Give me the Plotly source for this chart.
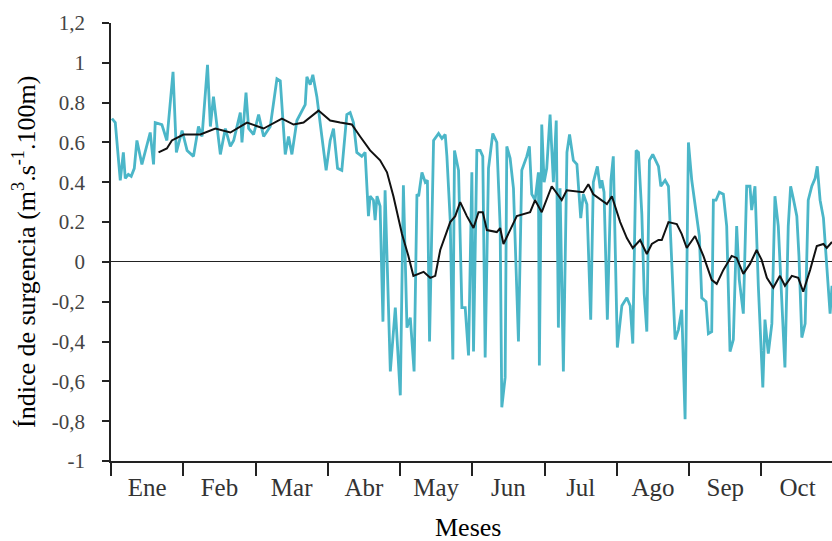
import plotly.graph_objects as go

# Daily upwelling index (cyan): day of year (x) and value
day_idx = [0.4, 1.8, 3.9, 5.2, 6.0, 7.3, 8.5, 9.8, 10.9, 13.0, 16.5, 17.9, 18.6, 21.4, 23.5, 26.1, 27.5, 29.9,
           32.0, 34.7, 36.8, 38.3, 40.6, 41.8, 43.1, 46.0, 48.1, 50.2, 51.6, 54.4, 55.1, 56.8, 57.9, 60.0, 62.1,
           64.2, 67.0, 69.8, 71.2, 73.3, 74.7, 76.1, 78.2, 80.3, 81.7, 82.4, 83.8, 84.9, 86.6, 88.7, 90.5, 92.2,
           93.6, 95.3, 97.1, 99.2, 100.6, 102.0, 103.4, 105.5, 106.9, 108.3, 109.0, 110.4, 111.1, 111.9, 113.2,
           114.4, 115.3, 117.5, 119.6, 121.7, 123.0, 124.5, 125.9, 127.5, 128.7, 129.4, 130.8, 132.2, 133.1,
           134.0, 135.7, 137.8, 139.2, 140.6, 141.3, 142.7, 143.8, 144.5, 146.2, 147.6, 149.0, 150.4, 151.8,
           152.5, 153.9, 155.3, 156.4, 157.4, 158.8, 160.6, 162.3, 163.7, 164.4, 165.8, 166.5, 167.9, 169.3,
           171.4, 172.8, 174.9, 176.0, 177.0, 178.4, 179.8, 180.2, 181.2, 182.2, 183.3, 184.7, 186.1, 187.3,
           188.2, 188.9, 190.3, 191.8, 192.9, 194.5, 196.0, 197.6, 198.7, 200.2, 201.8, 202.9, 204.6, 205.8,
           206.5, 207.4, 208.8, 210.3, 211.3, 213.0, 214.9, 217.0, 218.4, 219.5, 220.9, 221.9, 223.3, 224.3,
           225.4, 226.5, 227.9, 230.3, 231.3, 233.1, 234.5, 235.9, 237.3, 238.7, 240.1, 241.5, 242.9, 244.3,
           246.1, 247.5, 248.5, 250.3, 251.3, 252.7, 253.4, 254.5, 255.9, 257.6, 259.0, 260.4, 261.8, 263.2,
           264.3, 266.0, 267.4, 268.8, 269.5, 270.9, 272.3, 274.2, 275.1, 276.5, 278.0, 279.3, 280.7, 282.2,
           283.5, 284.9, 285.9, 287.0, 288.5, 289.4, 290.6, 292.0, 293.3, 294.8, 296.2, 297.1, 298.3, 299.7,
           301.1, 302.5, 303.3]
daily_index = [0.72, 0.70, 0.41, 0.55, 0.42, 0.44, 0.43, 0.47, 0.61, 0.49, 0.65, 0.49, 0.70, 0.69, 0.61, 0.955,
               0.55, 0.66, 0.56, 0.53, 0.68, 0.63, 0.99, 0.68, 0.83, 0.54, 0.67, 0.58, 0.61, 0.75, 0.60, 0.85,
               0.67, 0.64, 0.74, 0.63, 0.68, 0.92, 0.91, 0.54, 0.63, 0.54, 0.71, 0.76, 0.79, 0.93, 0.89, 0.94,
               0.83, 0.63, 0.46, 0.61, 0.67, 0.47, 0.46, 0.74, 0.75, 0.70, 0.55, 0.53, 0.55, 0.23, 0.33, 0.31,
               0.21, 0.33, 0.28, -0.30, 0.36, -0.55, -0.23, -0.67, 0.385, -0.33, -0.28, -0.55, 0.34, 0.33, 0.45,
               0.40, 0.41, -0.40, 0.61, 0.645, 0.62, 0.64, 0.53, 0.21, -0.49, 0.56, 0.46, -0.23, -0.23, -0.47,
               0.45, -0.45, 0.56, 0.56, 0.53, -0.48, 0.47, 0.645, 0.60, 0.18, -0.73, -0.58, 0.58, 0.52, 0.37,
               -0.40, 0.46, 0.53, 0.58, 0.34, 0.31, 0.45, -0.52, 0.69, 0.40, 0.47, 0.74, 0.40, 0.71, -0.33, 0.37,
               -0.55, 0.55, 0.64, 0.51, 0.49, 0.22, 0.34, 0.29, -0.29, 0.40, 0.48, 0.37,
               0.41, 0.35, -0.29, 0.41, 0.53, -0.43, -0.22, -0.18, -0.22, -0.41, 0.56, 0.55, 0.24, -0.16,
               -0.35, 0.51, 0.54, 0.48, 0.38, 0.41, 0.38, -0.04, -0.39, -0.34, -0.24, -0.79, 0.60, 0.41,
               0.26, 0.13, -0.18, -0.20, -0.36, -0.35, 0.31, 0.31, 0.35, 0.34, 0.18, -0.45, -0.39, 0.18,
               -0.09, -0.26, 0.38, 0.38, 0.26, 0.38, -0.12, -0.63, -0.29, -0.46, -0.31, 0.33, 0.18, -0.19,
               -0.53, 0.18, 0.38, 0.32, 0.23, 0.03, -0.38, -0.31, 0.31, 0.38, 0.42, 0.48, 0.31, 0.22, -0.05,
               -0.26, -0.12]

# Smoothed index (black)
smooth_day = [20.0, 22.1, 23.5, 25.6, 30.5, 37.6, 43.9, 50.2, 57.2, 64.2, 71.9, 76.8, 81.0, 87.3, 92.2, 96.4,
              101.3, 104.8, 109.0, 113.2, 116.1, 118.8, 122.4, 125.1, 127.2, 131.5, 134.3, 136.4, 138.5, 142.7,
              144.8, 146.9, 149.7, 152.5, 154.6, 156.4, 158.1, 162.3, 163.7, 165.1, 167.9, 170.7, 176.3, 178.4,
              181.2, 185.4, 189.6, 191.7, 198.7, 200.8, 202.9, 208.6, 210.7, 214.2, 217.0, 219.5, 222.6, 225.4,
              227.5, 230.3, 231.7, 234.5, 238.0, 240.1, 242.2, 245.7, 249.2, 252.7, 254.8, 257.6, 261.1, 263.2,
              266.0, 268.8, 271.6, 273.7, 275.9, 278.6, 281.4, 283.5, 286.4, 289.1, 291.2, 294.1, 296.9, 299.7,
              301.1, 303.3]
smooth_index = [0.55, 0.56, 0.57, 0.61, 0.64, 0.64, 0.67, 0.65, 0.70, 0.67, 0.72, 0.69, 0.70, 0.76, 0.71, 0.70,
                0.69, 0.63, 0.56, 0.51, 0.45, 0.33, 0.14, 0.03, -0.07, -0.05, -0.08, -0.07, 0.06, 0.20, 0.23,
                0.30, 0.23, 0.17, 0.25, 0.25, 0.16, 0.15, 0.17, 0.09, 0.16, 0.23, 0.25, 0.31, 0.25, 0.38, 0.31,
                0.36, 0.35, 0.39, 0.34, 0.29, 0.33, 0.20, 0.12, 0.07, 0.11, 0.04, 0.09, 0.11, 0.11, 0.20, 0.19,
                0.14, 0.07, 0.13, 0.03, -0.09, -0.11, -0.04, 0.03, 0.02, -0.06, -0.01, 0.06, 0.01, -0.08, -0.13,
                -0.07, -0.12, -0.07, -0.08, -0.15, -0.04, 0.08, 0.09, 0.07, 0.10]

months = ["Ene", "Feb", "Mar", "Abr", "May", "Jun", "Jul", "Ago", "Sep", "Oct"]
month_len = 30.4
y_ticks = [1.2, 1, 0.8, 0.6, 0.4, 0.2, 0, -0.2, -0.4, -0.6, -0.8, -1]
y_tick_text = ["1,2", "1", "0.8", "0.6", "0.4", "0.2", "0", "-0,2", "-0,4", "-0,6", "-0,8", "-1"]
x_title = "Meses"
y_title = "Índice de surgencia (m<sup>3</sup>.s<sup>-1</sup>.100m)"

month_bounds = [i * month_len for i in range(len(months) + 1)]
month_mids = [(i + 0.5) * month_len for i in range(len(months))]

fig = go.Figure()
fig.add_trace(go.Scatter(x=day_idx, y=daily_index, mode="lines",
                         line=dict(color="#4BB6C8", width=2.8), showlegend=False))
fig.add_trace(go.Scatter(x=smooth_day, y=smooth_index, mode="lines",
                         line=dict(color="#111111", width=2), showlegend=False))

SERIF = "Liberation Serif"
fig.update_layout(
    width=832, height=541,
    margin=dict(l=111, r=0, t=23, b=80),
    paper_bgcolor="white", plot_bgcolor="white",
    font=dict(family=SERIF, color="#000"),
    xaxis=dict(
        range=[0, 303.3], showgrid=False, zeroline=False, automargin=False,
        showline=True, linecolor="#222", linewidth=1.5,
        tickmode="array", tickvals=month_mids, ticktext=months,
        ticks="", ticklabelstandoff=3,
        tickfont=dict(size=25, color="#333", family=SERIF),
        minor=dict(tickmode="array", tickvals=month_bounds, ticks="outside",
                   ticklen=13, tickwidth=1.5, tickcolor="#222", showgrid=False),
    ),
    yaxis=dict(
        range=[-1, 1.2], showgrid=False, automargin=False,
        zeroline=True, zerolinecolor="#222", zerolinewidth=1.4,
        showline=True, linecolor="#222", linewidth=1.5,
        tickmode="array", tickvals=y_ticks, ticktext=y_tick_text,
        ticks="outside", ticklen=7, tickwidth=1.5, tickcolor="#222",
        ticklabelstandoff=13,
        tickfont=dict(size=21, color="#444", family=SERIF),
    ),
    annotations=[
        dict(text=x_title, xref="paper", yref="paper", x=(468 - 111) / 721, y=(461 - 527) / 438,
             xanchor="center", yanchor="middle", showarrow=False,
             font=dict(size=26, color="#000", family=SERIF)),
        dict(text=y_title, xref="paper", yref="paper", x=(25 - 111) / 721, y=(461 - 252) / 438,
             xanchor="center", yanchor="middle", textangle=-90, showarrow=False,
             font=dict(size=26, color="#000", family=SERIF)),
    ],
)

fig.write_html("out.html", config={"displayModeBar": False},
               post_script="document.body.style.margin='0';document.body.style.overflow='hidden';")
